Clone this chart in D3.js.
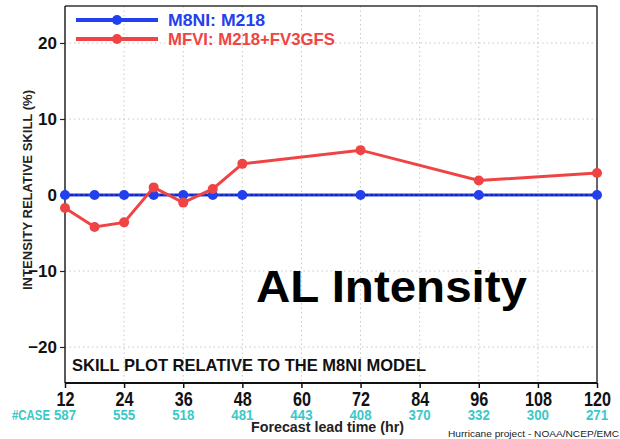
<!DOCTYPE html>
<html><head><meta charset="utf-8">
<script src="https://cdn.jsdelivr.net/npm/d3@7"></script>
<style>
html,body{margin:0;padding:0;background:#fff;}
svg text{font-family:"Liberation Sans",Arial,sans-serif;}
</style></head>
<body><svg id="c" width="620" height="439"></svg>
<script>
const leadTimes = [12, 18, 24, 30, 36, 42, 48, 72, 96, 120];
const m8niSkill = [0, 0, 0, 0, 0, 0, 0, 0, 0, 0];
const mfviSkill = [-1.7, -4.2, -3.6, 1.0, -1.0, 0.8, 4.1, 5.9, 1.9, 2.9];
const xTicks = [12, 24, 36, 48, 60, 72, 84, 96, 108, 120];
const caseCounts = [587, 555, 518, 481, 443, 408, 370, 332, 300, 271];
const yTicks = [-20, -10, 0, 10, 20];
const seriesNames = ["M8NI:  M218", "MFVI:  M218+FV3GFS"];
const seriesColors = ["#2240ee", "#f04444"];

const svg = d3.select("#c");
const L = 65, R = 597, T = 6, B = 383;
const x = d3.scaleLinear().domain([12, 120]).range([L, R]);
const y = d3.scaleLinear().domain([-25, 25]).range([385, 5]);

// grid
const g = svg.append("g");
g.selectAll("line.vg").data(xTicks.slice(1, -1)).enter().append("line")
  .attr("x1", d => x(d)).attr("x2", d => x(d)).attr("y1", T).attr("y2", B)
  .attr("stroke", "#c8c8c8").attr("stroke-width", 1).attr("stroke-dasharray", "1.5,3");
g.selectAll("line.hg").data(yTicks).enter().append("line")
  .attr("x1", L).attr("x2", R).attr("y1", d => y(d)).attr("y2", d => y(d))
  .attr("stroke", "#c8c8c8").attr("stroke-width", 1).attr("stroke-dasharray", "1.5,3");

// frame
svg.append("line").attr("x1", L).attr("x2", R).attr("y1", T).attr("y2", T).attr("stroke", "#333").attr("stroke-width", 1.5);
svg.append("line").attr("x1", R).attr("x2", R).attr("y1", T).attr("y2", B).attr("stroke", "#333").attr("stroke-width", 1.5);

// y axis
const yAxis = d3.axisLeft(y).tickValues(yTicks).tickSize(5).tickPadding(3)
  .tickFormat(d => d < 0 ? "\u2212" + Math.abs(d) : d);
const ya = svg.append("g").attr("transform", `translate(${L},0)`).call(yAxis);
ya.select(".domain").attr("d", `M0,${T}V${B}`).attr("stroke", "#222").attr("stroke-width", 1.5);
ya.selectAll(".tick line").attr("stroke", "#222").attr("stroke-width", 1.2);
ya.selectAll(".tick text").attr("font-size", 17).attr("font-weight", "bold").attr("fill", "#111");

// x axis
const xAxis = d3.axisBottom(x).tickValues(xTicks).tickSize(5).tickPadding(0);
const xa = svg.append("g").attr("transform", `translate(0,${B})`).call(xAxis);
xa.select(".domain").attr("d", `M${L},0H${R}`).attr("stroke", "#111").attr("stroke-width", 1.8);
xa.selectAll(".tick line").attr("stroke", "#111").attr("stroke-width", 1.5);
xa.selectAll(".tick text").attr("font-size", 19.5).attr("font-weight", "bold").attr("fill", "#111")
  .attr("y", 23).attr("dy", null).attr("transform", "scale(0.83,1)");

// case counts
svg.selectAll("text.case").data(xTicks).enter().append("text")
  .attr("transform", d => `translate(${x(d)},420) scale(0.95,1)`).attr("text-anchor", "middle")
  .attr("font-size", 14).attr("font-weight", "bold").attr("fill", "#3cc8c8")
  .text((d, i) => caseCounts[i]);
svg.append("text").attr("x", 12).attr("y", 420).attr("textLength", 38).attr("lengthAdjust", "spacingAndGlyphs")
  .attr("font-size", 14).attr("font-weight", "bold").attr("fill", "#3cc8c8").text("#CASE");

// axis titles
svg.append("text").attr("x", 251).attr("y", 432).attr("textLength", 153).attr("lengthAdjust", "spacingAndGlyphs")
  .attr("font-size", 15).attr("font-weight", "bold").attr("fill", "#222").text("Forecast lead time (hr)");
svg.append("text").attr("transform", "translate(32,190) rotate(-90)").attr("x", -100)
  .attr("textLength", 200).attr("lengthAdjust", "spacingAndGlyphs")
  .attr("font-size", 12.5).attr("font-weight", "bold").attr("fill", "#222").text("INTENSITY RELATIVE SKILL (%)");
svg.append("text").attr("x", 448).attr("y", 437).attr("textLength", 171).attr("lengthAdjust", "spacingAndGlyphs")
  .attr("font-size", 9).attr("fill", "#222").text("Hurricane project - NOAA/NCEP/EMC");
svg.append("text").attr("x", 72).attr("y", 371).attr("textLength", 354).attr("lengthAdjust", "spacingAndGlyphs")
  .attr("font-size", 17).attr("font-weight", "bold").attr("fill", "#111").text("SKILL PLOT RELATIVE TO THE M8NI MODEL");
svg.append("text").attr("x", 256).attr("y", 302).attr("textLength", 271).attr("lengthAdjust", "spacingAndGlyphs")
  .attr("font-size", 45).attr("font-weight", "bold").attr("fill", "#000").text("AL Intensity");

// series
const line = d3.line().x((d, i) => x(leadTimes[i])).y(d => y(d));
[m8niSkill, mfviSkill].forEach((s, k) => {
  svg.append("path").datum(s).attr("d", line).attr("fill", "none")
    .attr("stroke", seriesColors[k]).attr("stroke-width", 3);
  if (k === 0) {
    svg.append("path").datum(s).attr("d", line).attr("fill", "none")
      .attr("stroke", "#101070").attr("stroke-width", 1).attr("stroke-dasharray", "3,2");
  }
  svg.selectAll(null).data(s).enter().append("circle")
    .attr("cx", (d, i) => x(leadTimes[i])).attr("cy", d => y(d)).attr("r", 5)
    .attr("fill", seriesColors[k]);
});

// legend
const leg = [[20, 0, 97], [39, 1, 167]];
leg.forEach(([ly, k, w]) => {
  svg.append("line").attr("x1", 76).attr("x2", 158).attr("y1", ly).attr("y2", ly)
    .attr("stroke", seriesColors[k]).attr("stroke-width", 4);
  svg.append("circle").attr("cx", 117).attr("cy", ly).attr("r", 5).attr("fill", seriesColors[k]);
  svg.append("text").attr("x", 168).attr("y", ly + 6).attr("textLength", w).attr("lengthAdjust", "spacingAndGlyphs")
    .attr("font-size", 17).attr("font-weight", "bold")
    .attr("fill", seriesColors[k]).text(seriesNames[k]);
});
</script></body></html>
